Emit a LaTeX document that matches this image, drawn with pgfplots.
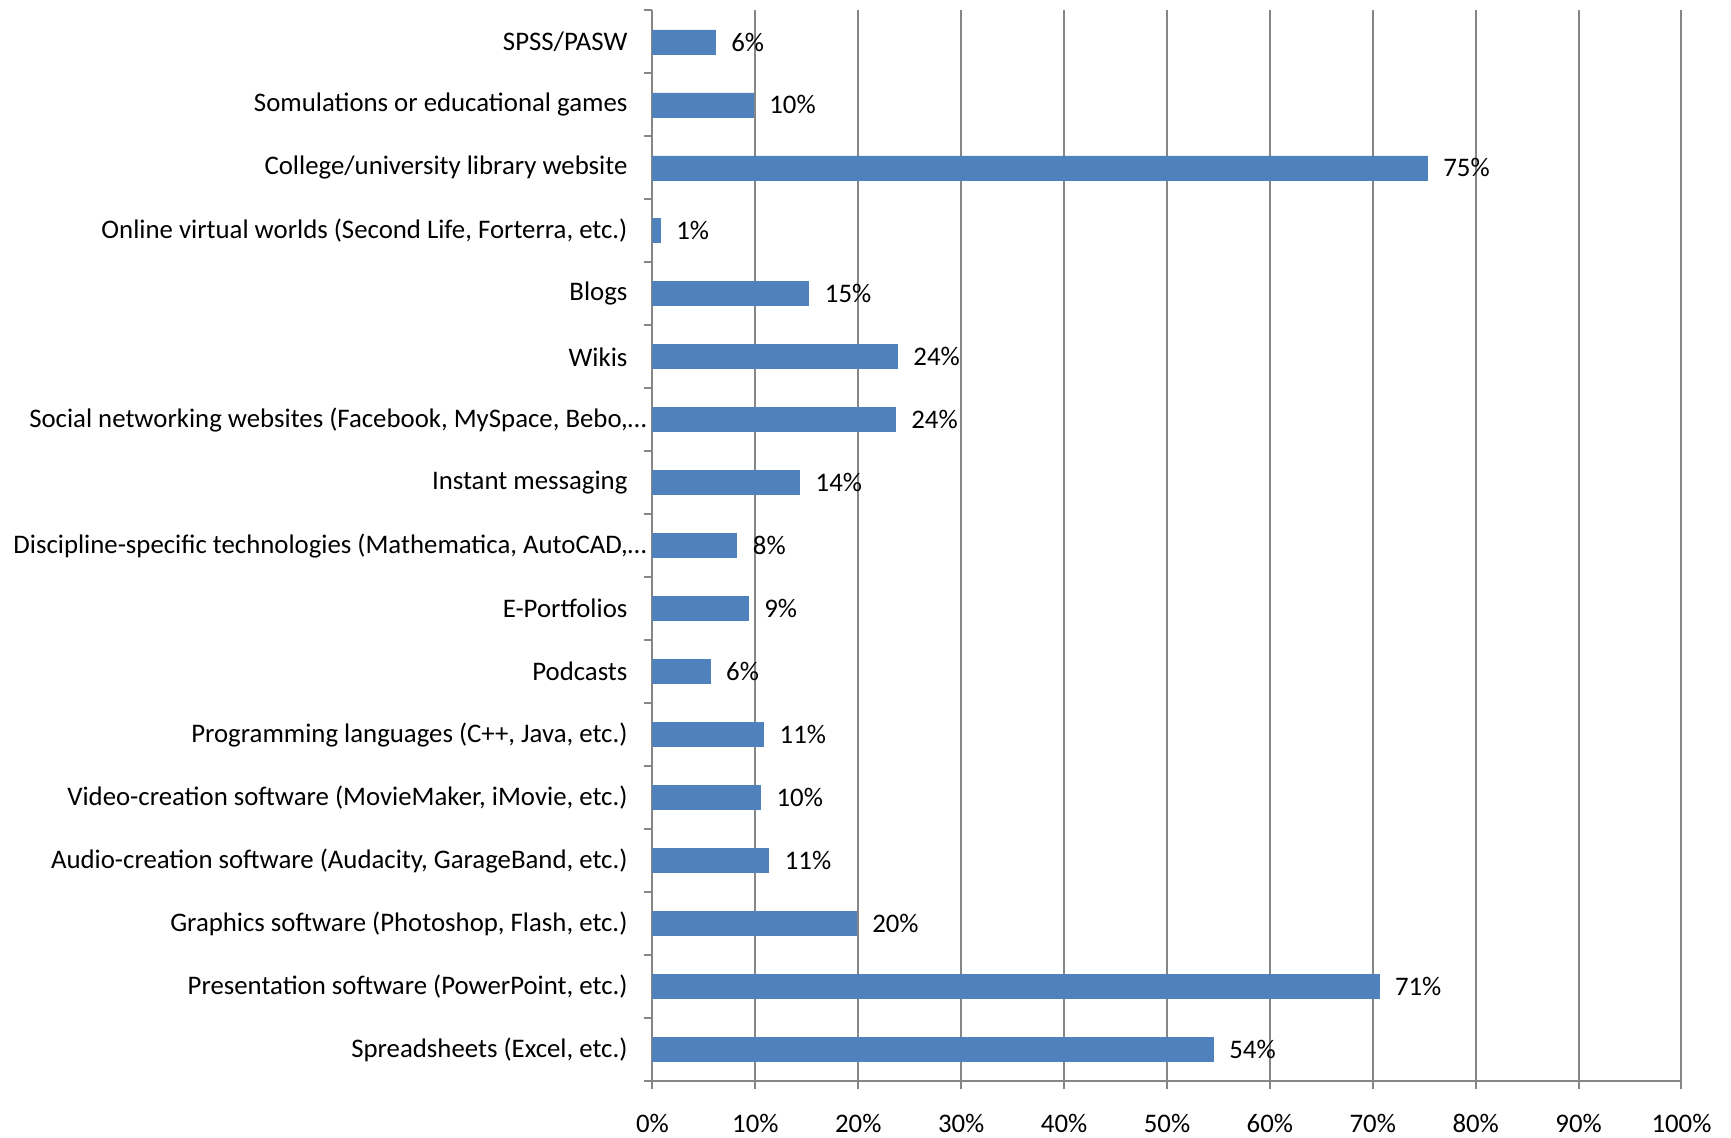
\documentclass[border=0pt]{standalone}
\usepackage{fontspec}
\setmainfont{Carlito}
\usepackage{pgfplots}
\usepackage{pgfplotstable}
\pgfplotsset{compat=1.18}
\definecolor{barblue}{HTML}{4F81BD}
\definecolor{gridgray}{HTML}{868686}
\pgfplotstableread{
y v lab
16 6.1 6
15 9.8 10
14 75.3 75
13 0.75 1
12 15.2 15
11 23.8 24
10 23.6 24
9 14.3 14
8 8.2 8
7 9.3 9
6 5.6 6
5 10.8 11
4 10.5 10
3 11.3 11
2 19.8 20
1 70.6 71
0 54.5 54
}\datatable
\begin{document}
\begin{tikzpicture}
\begin{axis}[
  scale only axis, width=514.5pt, height=535.25pt,
  /pgf/number format/assume math mode=true,
  xbar, bar width=12pt,
  xmin=0, xmax=100, ymin=-0.5, ymax=16.5,
  axis x line*=bottom, axis y line*=left,
  axis line style={gridgray, line width=1pt},
  tick style={gridgray, line width=1pt},
  tick align=outside,
  major tick length=4pt,
  xtick={0,10,...,100},
  xticklabels={0\%,10\%,20\%,30\%,40\%,50\%,60\%,70\%,80\%,90\%,100\%},
  xmajorgrids, major grid style={gridgray, line width=1pt},
  ytick={-0.5,0.5,...,16.5},
  yticklabels={},
  extra y ticks={0,...,16},
  extra y tick style={major tick length=0pt},
  extra y tick labels={
    Spreadsheets (Excel{,} etc.),
    Presentation software (PowerPoint{,} etc.),
    Graphics software (Photoshop{,} Flash{,} etc.),
    Audio-creation software (Audacity{,} GarageBand{,} etc.),
    Video-creation software (MovieMaker{,} iMovie{,} etc.),
    Programming languages (C++{,} Java{,} etc.),
    Podcasts,
    E-Portfolios,
    Discipline-specific technologies (Mathematica{,} AutoCAD{,}…\hspace*{-9.5pt},
    Instant messaging,
    Social networking websites (Facebook{,} MySpace{,} Bebo{,}…\hspace*{-9.5pt},
    Wikis,
    Blogs,
    Online virtual worlds (Second Life{,} Forterra{,} etc.),
    College/university library website,
    Somulations or educational games,
    SPSS/PASW},
  yticklabel style={font=\fontsize{13.4}{16}\selectfont, xshift=-9pt},
  xticklabel style={font=\fontsize{13.4}{16}\selectfont, inner sep=0pt, yshift=-12.5pt},
  point meta=explicit,
  nodes near coords={\pgfmathprintnumber{\pgfplotspointmeta}\%},
  nodes near coords style={font=\fontsize{13.4}{16}\selectfont, anchor=west, xshift=4.5pt, black},
]
\addplot[fill=barblue, draw=barblue] table[x=v, y=y, meta=lab] {\datatable};
\end{axis}
\draw[draw=none] (current axis.south west) ++(-326.25pt,-28pt) rectangle ++(865.5pt,568.5pt);
\end{tikzpicture}
\end{document}
